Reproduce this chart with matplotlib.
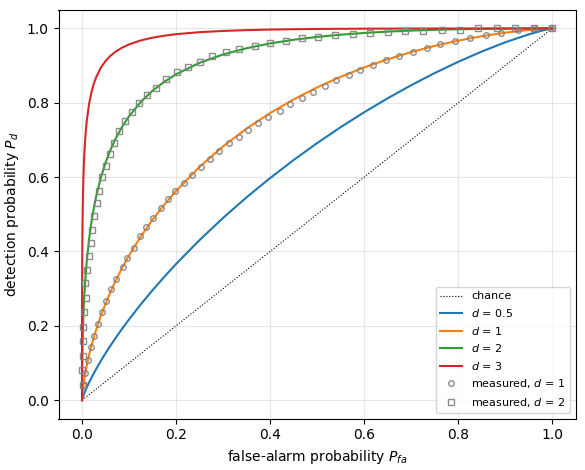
import matplotlib
matplotlib.use("Agg")
import matplotlib.pyplot as plt

# ROC curves (false-alarm prob, detection prob)
pfa = [0.0, 1e-6, 1e-5, 0.0001, 0.0005, 0.001, 0.002, 0.003, 0.004, 0.005,
       0.0075, 0.01, 0.015, 0.02, 0.025, 0.03, 0.04, 0.05, 0.06, 0.07, 0.085,
       0.1, 0.125, 0.15, 0.175, 0.2,
       0.25, 0.3, 0.35, 0.4, 0.45, 0.5, 0.55, 0.6, 0.65, 0.7, 0.75, 0.8, 0.85,
       0.9, 0.95, 0.98, 1.0]
pd_05 = [0.0, 0.00001, 0.0001, 0.00064, 0.0026, 0.0048, 0.0087, 0.0123, 0.0157,
         0.0190, 0.0267, 0.0339, 0.0475, 0.0601, 0.0721, 0.0836, 0.1055, 0.1261,
         0.1457, 0.1645, 0.1916, 0.2172, 0.2578, 0.2958, 0.3318, 0.3663,
         0.4307, 0.4903, 0.5457, 0.5974, 0.6459, 0.6915, 0.7343, 0.7744, 0.8120,
         0.8472, 0.8799, 0.9101, 0.9378, 0.9626, 0.9840, 0.9947, 1.0]
pd_1 = [0.0, 0.00006, 0.0005, 0.0033, 0.0110, 0.0183, 0.0302, 0.0402, 0.0493,
        0.0575, 0.0761, 0.0924, 0.1210, 0.1459, 0.1685, 0.1892, 0.2263, 0.2595,
        0.2894, 0.3170, 0.3549, 0.3891, 0.4404, 0.4855, 0.5259, 0.5629,
        0.6276, 0.6828, 0.7306, 0.7724, 0.8090, 0.8413, 0.8699, 0.8950, 0.9170,
        0.9363, 0.9530, 0.9672, 0.9791, 0.9887, 0.9959, 0.9989, 1.0]
pd_2 = [0.0, 0.0030, 0.0118, 0.0428, 0.0984, 0.1379, 0.1900, 0.2272, 0.2572,
        0.2823, 0.3329, 0.3722, 0.4325, 0.4785, 0.5160, 0.5474, 0.5983, 0.6387,
        0.6718, 0.6999, 0.7350, 0.7637, 0.8023, 0.8324, 0.8566, 0.8767,
        0.9075, 0.9300, 0.9468, 0.9597, 0.9696, 0.9772, 0.9832, 0.9879, 0.9915,
        0.9942, 0.9963, 0.9978, 0.9988, 0.9995, 0.9999, 1.0, 1.0]
pd_3 = [0.0, 0.0398, 0.1029, 0.2361, 0.3855, 0.4641, 0.5486, 0.5995, 0.6361,
        0.6642, 0.7150, 0.7499, 0.7967, 0.8279, 0.8508, 0.8684, 0.8942, 0.9123,
        0.9258, 0.9362, 0.9482, 0.9571, 0.9678, 0.9752, 0.9805, 0.9846,
        0.9900, 0.9933, 0.9955, 0.9970, 0.9980, 0.9987, 0.9991, 0.9994, 0.9996,
        0.9998, 0.9999, 0.9999, 1.0, 1.0, 1.0, 1.0, 1.0]

# measured points, d = 1
meas1_pfa = [0.002, 0.007, 0.012, 0.020, 0.026, 0.034, 0.043, 0.052, 0.062, 0.073,
             0.087, 0.096, 0.110, 0.123, 0.137, 0.152, 0.167, 0.182, 0.198, 0.216,
             0.235, 0.253, 0.273, 0.291, 0.312, 0.333, 0.354, 0.375, 0.396, 0.422,
             0.443, 0.467, 0.492, 0.516, 0.541, 0.567, 0.592, 0.620, 0.647, 0.675,
             0.703, 0.733, 0.762, 0.794, 0.826, 0.859, 0.892, 0.928, 0.962, 0.997]
meas1_pd = [0.042, 0.072, 0.109, 0.142, 0.174, 0.206, 0.238, 0.268, 0.298, 0.327,
            0.357, 0.383, 0.410, 0.441, 0.466, 0.491, 0.516, 0.540, 0.562, 0.585,
            0.607, 0.628, 0.650, 0.671, 0.691, 0.709, 0.728, 0.747, 0.763, 0.779,
            0.798, 0.814, 0.830, 0.846, 0.860, 0.876, 0.889, 0.903, 0.916, 0.927,
            0.937, 0.948, 0.959, 0.967, 0.975, 0.983, 0.989, 0.995, 1.0, 1.0]

# measured points, d = 2
meas2_pfa = [0.002, 0.000, 0.003, 0.003, 0.003, 0.005, 0.009, 0.007, 0.011, 0.014,
             0.019, 0.022, 0.026, 0.031, 0.037, 0.043, 0.052, 0.060, 0.069, 0.079,
             0.092, 0.107, 0.122, 0.139, 0.158, 0.179, 0.201, 0.226, 0.250, 0.277,
             0.306, 0.335, 0.367, 0.399, 0.433, 0.467, 0.503, 0.539, 0.576, 0.613,
             0.650, 0.688, 0.726, 0.765, 0.803, 0.843, 0.882, 0.922, 0.962, 1.0]
meas2_pd = [0.040, 0.081, 0.120, 0.158, 0.197, 0.236, 0.274, 0.314, 0.351, 0.387,
            0.424, 0.459, 0.495, 0.530, 0.564, 0.600, 0.631, 0.662, 0.693, 0.723,
            0.751, 0.775, 0.799, 0.822, 0.841, 0.864, 0.882, 0.895, 0.911, 0.925,
            0.936, 0.944, 0.953, 0.962, 0.966, 0.975, 0.978, 0.983, 0.986, 0.988,
            0.990, 0.993, 0.993, 0.996, 0.996, 1.0, 1.0, 1.0, 1.0, 1.0]

chance = [0.0, 1.0]


def plotROC():
    fig = plt.figure(figsize=(5.85, 4.7), dpi=100)
    ax = fig.add_axes([0.1, 0.109, 0.884, 0.87])

    ax.plot(chance, chance, ':', color='black', lw=0.8, label='chance')
    ax.plot(pfa, pd_05, color='tab:blue', lw=1.5, label=r'$d$ = 0.5')
    ax.plot(pfa, pd_1, color='tab:orange', lw=1.5, label=r'$d$ = 1')
    ax.plot(pfa, pd_2, color='tab:green', lw=1.5, label=r'$d$ = 2')
    ax.plot(pfa, pd_3, color='tab:red', lw=1.5, label=r'$d$ = 3')
    ax.plot(meas1_pfa, meas1_pd, 'o', ls='none', ms=4, mfc='none', mec='gray',
            mew=1.0, alpha=0.9, label=r'measured, $d$ = 1')
    ax.plot(meas2_pfa, meas2_pd, 's', ls='none', ms=4, mfc='none', mec='gray',
            mew=1.0, alpha=0.9, label=r'measured, $d$ = 2')

    ax.set_xlim(-0.05, 1.05)
    ax.set_ylim(-0.05, 1.05)
    ax.grid(True, alpha=0.3)
    ax.set_xlabel(r'false-alarm probability $P_{fa}$')
    ax.set_ylabel(r'detection probability $P_d$')
    ax.legend(loc='lower right', fontsize=8)

    fig.savefig('out.png', dpi=100)


if __name__ == "__main__":
    plotROC()
